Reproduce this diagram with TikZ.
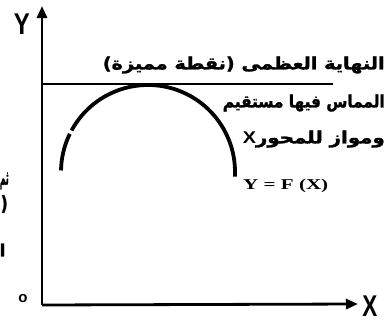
\documentclass[tikz,border=0pt]{standalone}
\usepackage{fontspec}
\usepackage{graphicx}
\TeXXeTstate=1
\newfontfamily\arabicfont[Script=Arabic,BoldFeatures={FakeBold=1.5}]{DejaVu Sans}
\newfontfamily\latfont{Liberation Sans}
\newfontfamily\serfont{Liberation Serif}
\usetikzlibrary{arrows.meta,calc}
\begin{document}
\begin{tikzpicture}[x=1pt,y=-1pt,
  axis/.style={line width=2.8pt,-{Triangle[length=12pt,width=10pt]}},
  curve/.style={line width=3.8pt},
  tang/.style={line width=2.6pt},
  ar/.style={font=\arabicfont\bfseries\fontsize{17}{19}\selectfont,inner sep=0pt},
  axlab/.style={font=\latfont\bfseries\fontsize{30}{30}\selectfont,inner sep=0pt},
  fx/.style={font=\serfont\bfseries\fontsize{15}{17}\selectfont,inner sep=0pt}]
\useasboundingbox (0,0) rectangle (389,322);
\coordinate (O) at (42,305);
\coordinate (Ytop) at (42,6);
\coordinate (Xend) at (358,304);
\coordinate (TL) at (42,84);
\coordinate (TR) at (333,84);
\draw[axis] (O) -- (Ytop);
\draw[axis] (O) -- (Xend);
\draw[tang] (TL) -- (TR);
\coordinate (C) at (148,172);
\draw[curve] ($(C)+(181:87)$) arc[start angle=181,end angle=206,radius=87];
\draw[curve] ($(C)+(208.5:87)$) arc[start angle=208.5,end angle=363,radius=87];
\node[axlab] (ylab) at (22,24) {\scalebox{0.8}[1]{Y}};
\node[axlab] (xlab) at (370,306) {\scalebox{0.75}[1]{X}};
\node[font=\latfont\bfseries\fontsize{15}{15}\selectfont,inner sep=0pt] (olab) at (23,299) {o};
\node[ar,anchor=east] (t1) at (385,65) {\resizebox{282pt}{\height}{\beginR النهاية العظمى (نقطة مميزة)\endR}};
\node[ar,anchor=east] (t2) at (385,103) {\resizebox{162pt}{\height}{\beginR المماس فيها مستقيم\endR}};
\node[ar,anchor=east] (t3) at (385,139) {\resizebox{142pt}{\height}{{\latfont X}\beginR ومواز للمحور\endR}};
\node[fx,anchor=west] (t4) at (243,186) {\resizebox{85pt}{\height}{Y = F (X)}};
\node[ar,anchor=east] (l1) at (9,181) {\resizebox{9pt}{12pt}{\beginR ثم\endR}};
\node[ar,anchor=east] (l2) at (8,204) {\resizebox{7pt}{15pt}{\beginR (\endR}};
\node[ar,anchor=west] (l3) at (-0.5,250) {\beginR ا\endR};
\end{tikzpicture}
\end{document}
